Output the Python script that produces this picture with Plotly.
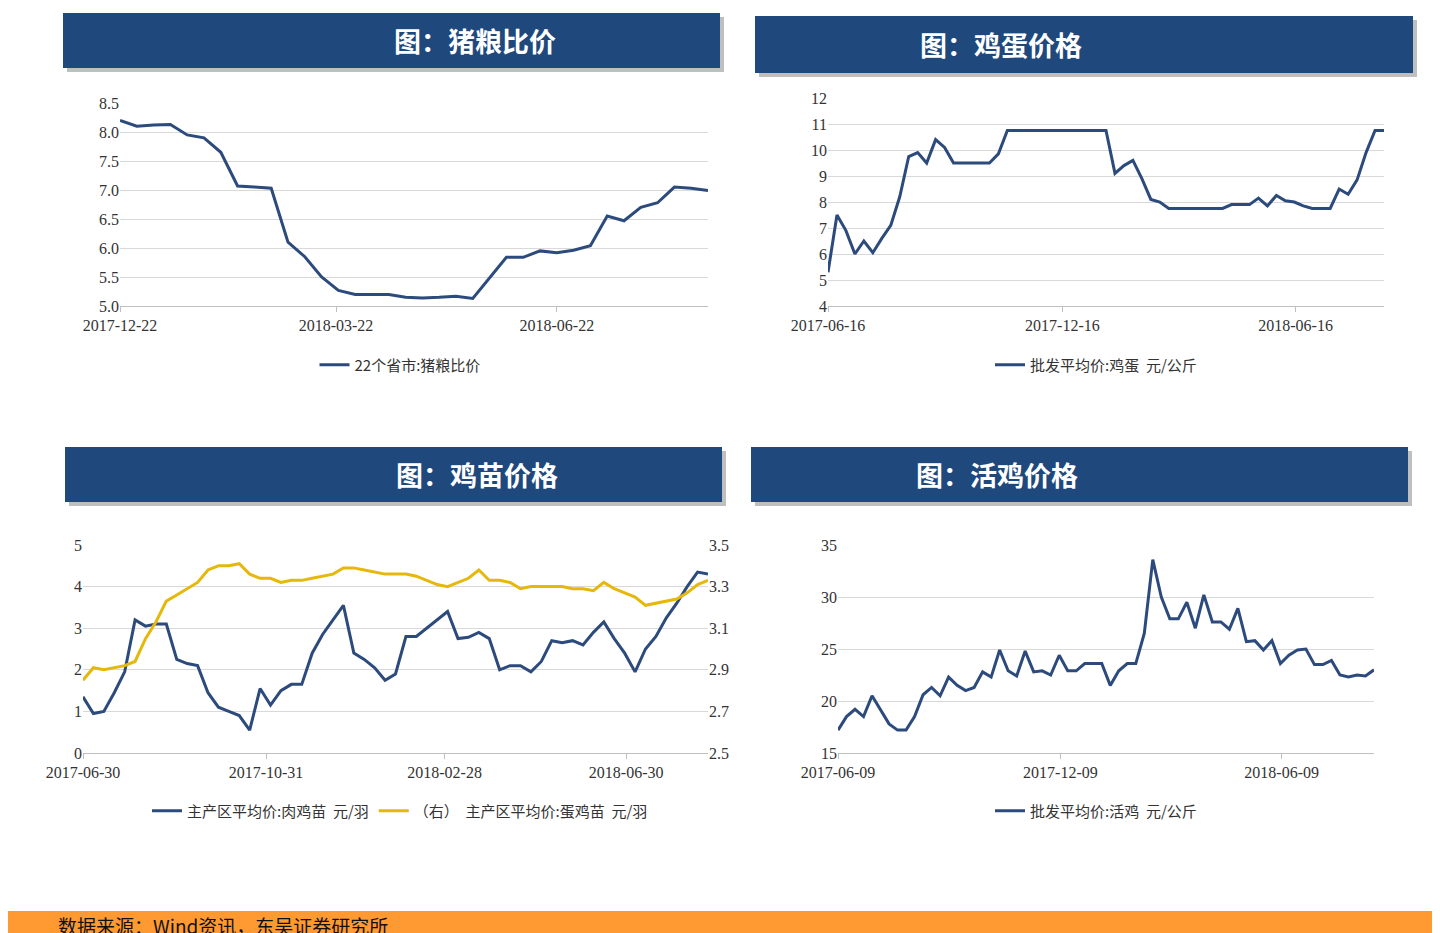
import pandas as pd
import plotly.graph_objects as go

# ---- data (weekly points) ----
pig_grain = [8.2, 8.1, 8.12, 8.13, 7.95, 7.9, 7.65, 7.07, 7.05, 7.03, 6.1, 5.85, 5.5, 5.27, 5.2, 5.2, 5.2, 5.15,
             5.14, 5.15, 5.17, 5.13, 5.48, 5.84, 5.84, 5.95, 5.92, 5.96, 6.04, 6.55, 6.47, 6.7, 6.78, 7.05, 7.03, 6.99]
egg_price = [5.3, 7.5, 6.9, 6.0, 6.5, 6.05, 6.6, 7.1, 8.2, 9.75, 9.9, 9.5, 10.4, 10.1, 9.5, 9.5, 9.5, 9.5, 9.5,
             9.85, 10.75, 10.75, 10.75, 10.75, 10.75, 10.75, 10.75, 10.75, 10.75, 10.75, 10.75, 10.75, 9.1, 9.4,
             9.6, 8.9, 8.1, 8.0, 7.75, 7.75, 7.75, 7.75, 7.75, 7.75, 7.75, 7.9, 7.9, 7.9, 8.15, 7.85, 8.25, 8.05,
             8.0, 7.85, 7.75, 7.75, 7.75, 8.5, 8.3, 8.85, 9.9, 10.75, 10.75]
broiler_chick = [1.35, 0.95, 1.0, 1.45, 1.95, 3.2, 3.05, 3.1, 3.1, 2.25, 2.15, 2.1, 1.45, 1.1, 1.0, 0.9, 0.55, 1.55,
                 1.15, 1.5, 1.65, 1.65, 2.4, 2.85, 3.2, 3.55, 2.4, 2.25, 2.05, 1.75, 1.9, 2.8, 2.8, 3.0, 3.2, 3.4,
                 2.75, 2.78, 2.9, 2.75, 2.0, 2.1, 2.1, 1.95, 2.2, 2.7, 2.65, 2.7, 2.6, 2.9, 3.15, 2.75, 2.4, 1.95,
                 2.5, 2.8, 3.25, 3.6, 4.0, 4.35, 4.3]
layer_chick = [2.85, 2.91, 2.9, 2.91, 2.92, 2.94, 3.05, 3.13, 3.23, 3.26, 3.29, 3.32, 3.38, 3.4, 3.4, 3.41, 3.36,
               3.34, 3.34, 3.32, 3.33, 3.33, 3.34, 3.35, 3.36, 3.39, 3.39, 3.38, 3.37, 3.36, 3.36, 3.36, 3.35, 3.33,
               3.31, 3.3, 3.32, 3.34, 3.38, 3.33, 3.33, 3.32, 3.29, 3.3, 3.3, 3.3, 3.3, 3.29, 3.29, 3.28, 3.32,
               3.29, 3.27, 3.25, 3.21, 3.22, 3.23, 3.24, 3.27, 3.31, 3.33]
live_chicken = [17.2, 18.5, 19.2, 18.5, 20.5, 19.2, 17.8, 17.2, 17.2, 18.5, 20.6, 21.3, 20.5, 22.3, 21.5, 21.0, 21.3,
                22.8, 22.3, 24.9, 22.9, 22.4, 24.8, 22.8, 22.9, 22.5, 24.4, 22.9, 22.9, 23.6, 23.6, 23.6, 21.5, 22.9,
                23.6, 23.6, 26.5, 33.6, 30.0, 27.9, 27.9, 29.5, 27.0, 30.2, 27.6, 27.6, 26.9, 28.9, 25.7, 25.8, 24.9,
                25.8, 23.6, 24.4, 24.9, 25.0, 23.5, 23.5, 23.9, 22.5, 22.3, 22.5, 22.4, 23.0]

d1 = pd.date_range("2017-12-22", periods=len(pig_grain), freq="7D")
d2 = pd.date_range("2017-06-16", periods=len(egg_price), freq="7D")
d3 = pd.date_range("2017-06-30", periods=len(broiler_chick), freq="7D")
d4 = pd.date_range("2017-06-09", periods=len(live_chicken), freq="7D")

ticks1 = ["2017-12-22", "2018-03-22", "2018-06-22"]
ticks2 = ["2017-06-16", "2017-12-16", "2018-06-16"]
ticks3 = ["2017-06-30", "2017-10-31", "2018-02-28", "2018-06-30"]
ticks4 = ["2017-06-09", "2017-12-09", "2018-06-09"]

BLUE = "#2C4B7C"
GOLD = "#E5B80B"
HEAD = "#1F487C"
W, H = 1440, 933


def px(x):
    return x / W


def py(y):
    return 1 - y / H


fig = go.Figure()
fig.add_trace(go.Scatter(x=d1, y=pig_grain, mode="lines", name="22个省市:猪粮比价", showlegend=True,
                         line=dict(color=BLUE, width=3), xaxis="x", yaxis="y", legend="legend"))
fig.add_trace(go.Scatter(x=d2, y=egg_price, mode="lines", name="批发平均价:鸡蛋  元/公斤", showlegend=True,
                         line=dict(color=BLUE, width=3), xaxis="x2", yaxis="y2", legend="legend2"))
fig.add_trace(go.Scatter(x=d3, y=broiler_chick, mode="lines", name="主产区平均价:肉鸡苗  元/羽", showlegend=True,
                         line=dict(color=BLUE, width=3), xaxis="x3", yaxis="y3", legend="legend3"))
fig.add_trace(go.Scatter(x=d3, y=layer_chick, mode="lines", name="（右）  主产区平均价:蛋鸡苗  元/羽", showlegend=True,
                         line=dict(color=GOLD, width=3), xaxis="x3", yaxis="y5", legend="legend3"))
fig.add_trace(go.Scatter(x=d4, y=live_chicken, mode="lines", name="批发平均价:活鸡  元/公斤", showlegend=True,
                         line=dict(color=BLUE, width=3), xaxis="x4", yaxis="y4", legend="legend4"))

tickfont = dict(family="Liberation Serif", size=16, color="#333")


def xax(x0, x1, y, ticks, start, end):
    return dict(domain=[px(x0), px(x1)], anchor=y, type="date", range=[start, end],
                tickvals=ticks, tickformat="%Y-%m-%d", showgrid=False, showline=True,
                linecolor="#BFBFBF", ticks="outside", tickcolor="#BFBFBF", ticklen=5,
                tickfont=tickfont, fixedrange=True, automargin=False)


def yax(y0, y1, rng, dt, fmt=""):
    return dict(domain=[py(y1), py(y0)], range=rng, dtick=dt, tick0=rng[0], tickformat=fmt,
                showgrid=True, gridcolor="#D9D9D9", gridwidth=1, zeroline=False,
                tickfont=tickfont, fixedrange=True, automargin=False)


legfont = dict(family="Noto Sans CJK SC", size=15, color="#333")


def leg(x, y):
    return dict(x=px(x), y=py(y), xanchor="center", yanchor="middle", orientation="h",
                font=legfont, bgcolor="rgba(0,0,0,0)", visible=True)


fig.update_layout(
    width=W, height=H, margin=dict(l=0, r=0, t=0, b=0, autoexpand=False),
    plot_bgcolor="white", paper_bgcolor="white", showlegend=True,
    xaxis=xax(112, 700, "y", ticks1, d1[0], d1[-1]),
    yaxis=yax(95, 298, [5, 8.5], 0.5, ".1f") | dict(anchor="x"),
    xaxis2=xax(820, 1376, "y2", ticks2, d2[0], d2[-1]),
    yaxis2=yax(90, 298, [4, 12], 1) | dict(anchor="x2"),
    xaxis3=xax(75, 700, "y3", ticks3, d3[0], d3[-1]),
    yaxis3=yax(537, 745, [0, 5], 1) | dict(anchor="x3"),
    yaxis5=yax(537, 745, [2.5, 3.5], 0.2, ".1f") | dict(anchor="x3", overlaying="y3", side="right",
                                                       showgrid=False),
    xaxis4=xax(830, 1366, "y4", ticks4, d4[0], d4[-1]),
    yaxis4=yax(537, 745, [15, 35], 5) | dict(anchor="x4"),
    legend=leg(392, 357),
    legend2=leg(1088, 357),
    legend3=leg(392, 803),
    legend4=leg(1088, 803),
)

# title boxes with shadow
boxes = [(55, 5, 712, 60, "图：猪粮比价"), (747, 8, 1405, 65, "图：鸡蛋价格"),
         (57, 439, 714, 494, "图：鸡苗价格"), (743, 439, 1400, 494, "图：活鸡价格")]
for x0, y0, x1, y1, txt in boxes:
    fig.add_shape(type="rect", xref="paper", yref="paper", x0=px(x0 + 4), x1=px(x1 + 4),
                  y0=py(y1 + 4), y1=py(y0 + 4), fillcolor="#BFBFBF", line_width=0, layer="below")
    fig.add_shape(type="rect", xref="paper", yref="paper", x0=px(x0), x1=px(x1),
                  y0=py(y1), y1=py(y0), fillcolor=HEAD, line_width=0)
    fig.add_annotation(xref="paper", yref="paper", x=px((x0 + x1) / 2), y=py((y0 + y1) / 2),
                       yanchor="middle", text="<b>" + txt + "</b>", showarrow=False,
                       font=dict(family="Noto Sans CJK SC", size=27, color="white"))

# footer
fig.add_shape(type="rect", xref="paper", yref="paper", x0=0, x1=1, y0=0, y1=py(903),
              fillcolor="#FF9A33", line_width=0)
fig.add_annotation(xref="paper", yref="paper", x=px(48), y=py(917), xanchor="left", yanchor="middle",
                   text="数据来源：Wind资讯，东吴证券研究所", showarrow=False,
                   font=dict(family="Noto Sans CJK SC", size=19, color="#111"))

fig.write_html("out.html")
